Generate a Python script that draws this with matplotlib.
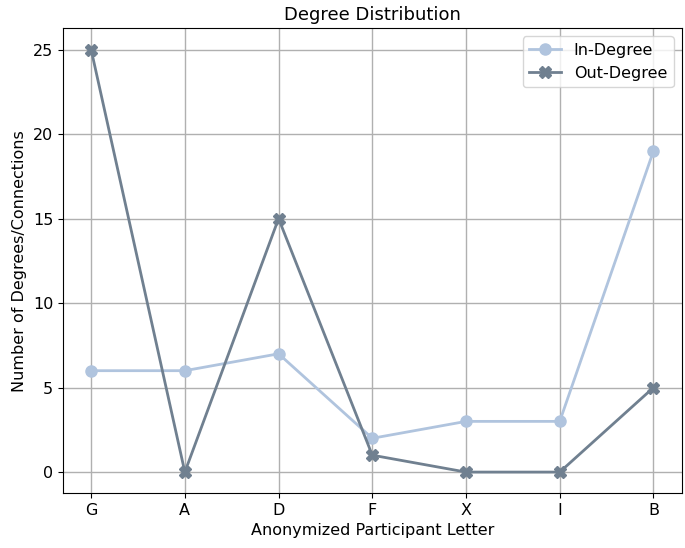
import matplotlib
matplotlib.use('Agg')
import matplotlib.pyplot as plt

participants = ['G', 'A', 'D', 'F', 'X', 'I', 'B']
in_degree = [6, 6, 7, 2, 3, 3, 19]
out_degree = [25, 0, 15, 1, 0, 0, 5]

plt.rcParams['font.size'] = 11.5

fig, ax = plt.subplots(figsize=(6.85, 5.48), dpi=100)
ax.plot(participants, in_degree, marker='o', markersize=8, color='lightsteelblue', linewidth=2, label='In-Degree')
ax.plot(participants, out_degree, marker='X', markersize=8, color='slategray', linewidth=2, label='Out-Degree')
ax.set_title('Degree Distribution', fontsize=13)
ax.set_xlabel('Anonymized Participant Letter')
ax.set_ylabel('Number of Degrees/Connections')
ax.grid(True, color='#b0b0b0', linewidth=1)
ax.legend(loc='upper right')
fig.subplots_adjust(left=0.092, right=0.995, top=0.948, bottom=0.1)
fig.savefig('out.png')
